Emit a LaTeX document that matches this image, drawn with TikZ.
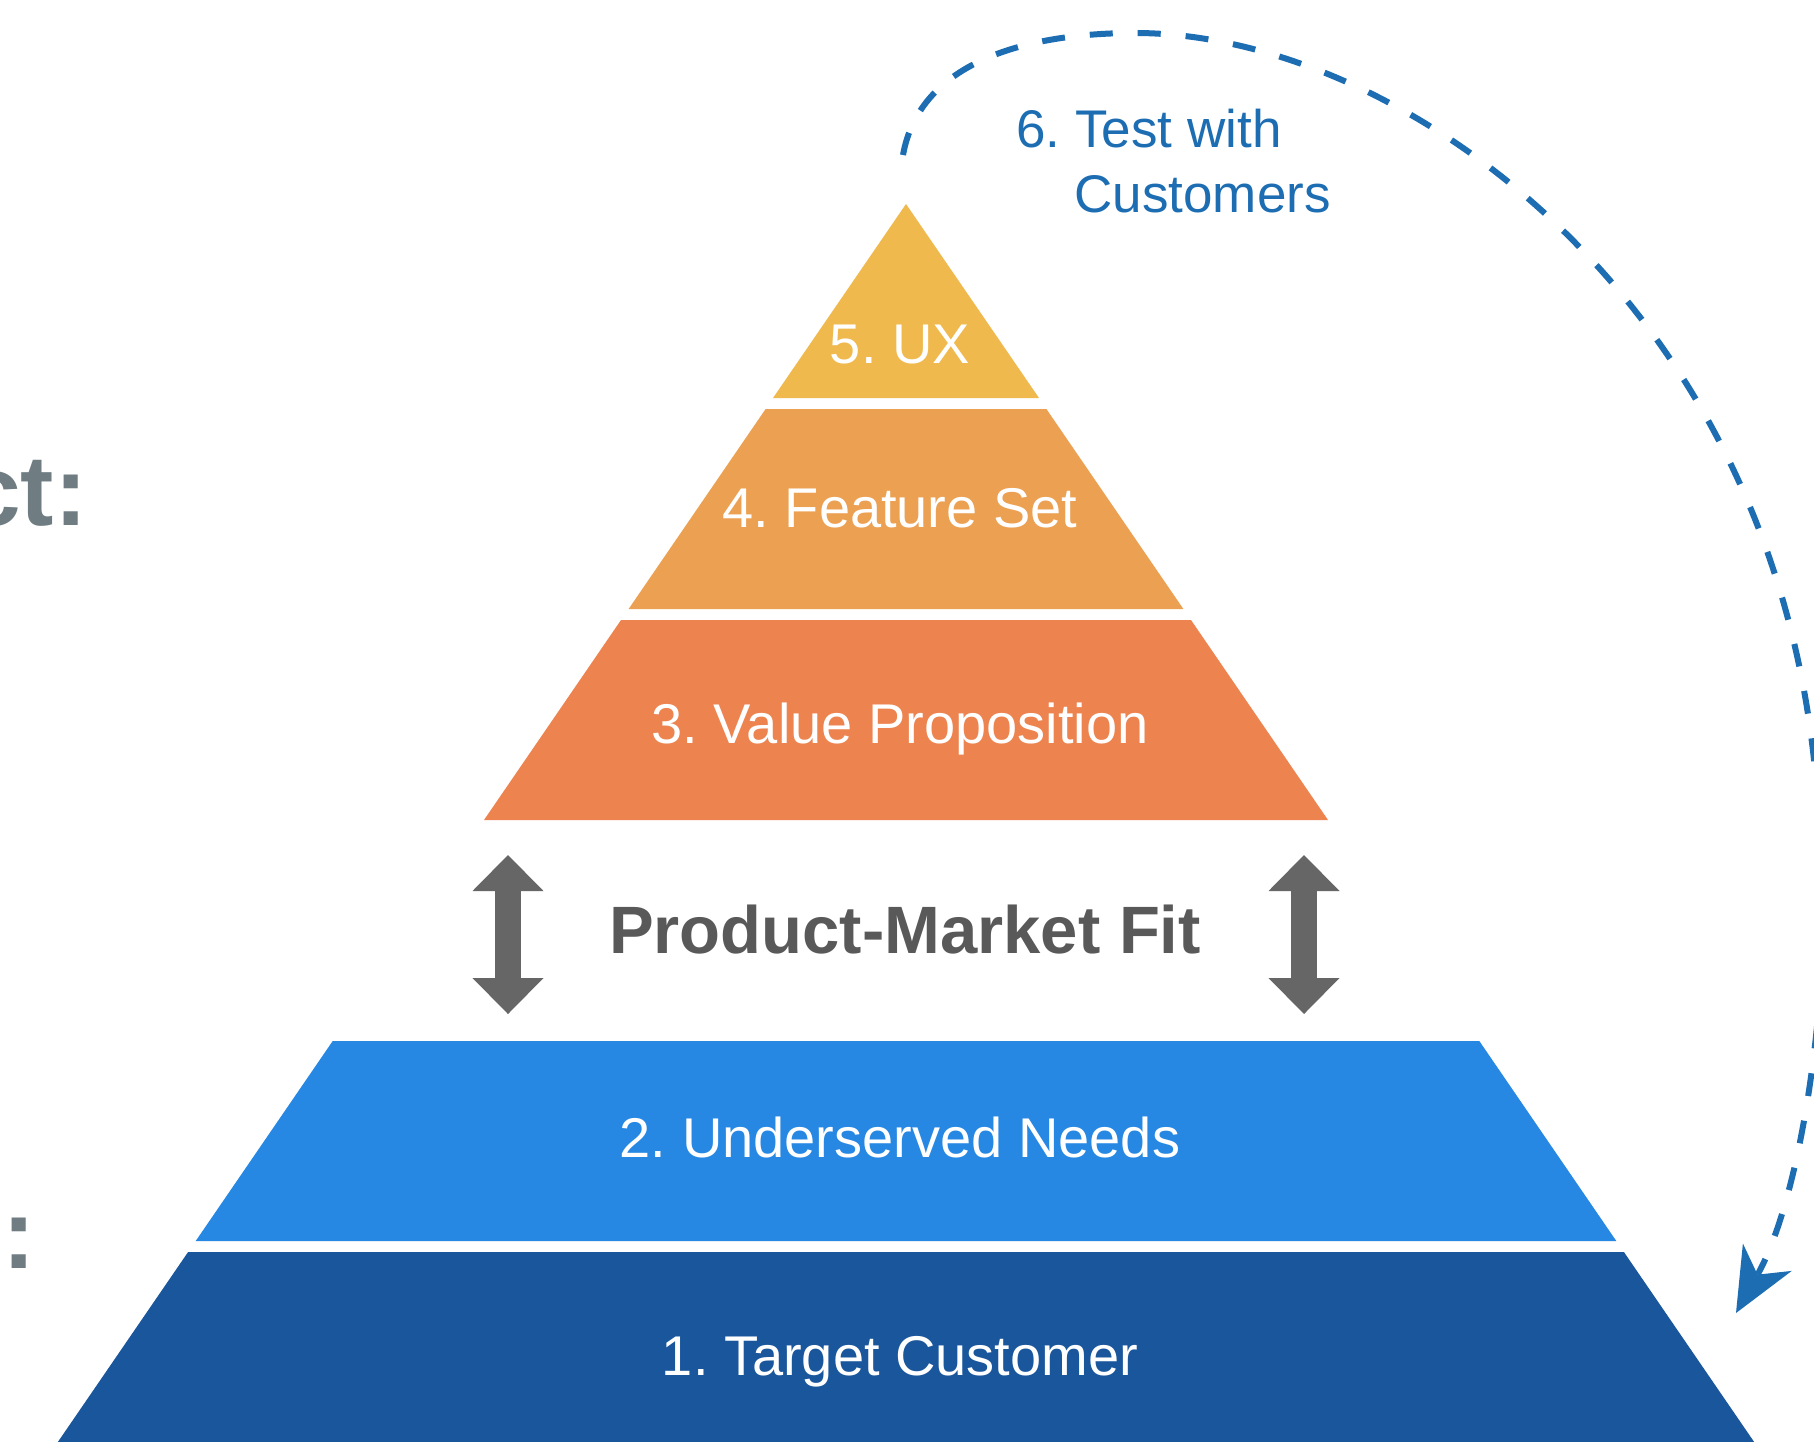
\documentclass[tikz,border=0pt]{standalone}
\usepackage{fontspec}
\setmainfont{Liberation Sans}
\usetikzlibrary{arrows.meta}
\definecolor{uxcol}{HTML}{EFB94D}
\definecolor{featcol}{HTML}{ECA052}
\definecolor{valcol}{HTML}{ED8450}
\definecolor{needcol}{HTML}{2788E3}
\definecolor{custcol}{HTML}{1A569C}
\definecolor{fitgray}{HTML}{666666}
\definecolor{fittext}{HTML}{595959}
\definecolor{testblue}{HTML}{1D6DB3}
\definecolor{sidegray}{HTML}{6F7C82}

\begin{document}
\frenchspacing
\begin{tikzpicture}[x=0.5pt, y=-0.5pt,
   layer/.style={text=white, inner sep=0pt, anchor=base, font=\fontsize{28}{32}\selectfont},
   fitarrow/.style={color=fitgray, line width=13pt,
     {Triangle[length=18pt,width=35.5pt,line width=0pt]}-{Triangle[length=18pt,width=35.5pt,line width=0pt]}},
   testline/.style={color=testblue, line width=3pt, dash pattern=on 11.5pt off 12.5pt,
     -{Stealth[length=32pt,width=28pt,inset=10pt,line width=0pt]}},
   testlbl/.style={text=testblue, inner sep=0pt, anchor=base west, font=\fontsize{26.5}{32}\selectfont},
   side/.style={text=sidegray, inner sep=0pt, anchor=base east, font=\fontsize{50}{56}\selectfont\bfseries}]
   \useasboundingbox (0,0) rectangle (1814,1441);
   \clip (0,0) rectangle (1814,1441);
   \fill[white] (0,0) rectangle (1814,1441);
   % upper pyramid
   \fill[uxcol] (906,204) -- (1039,398) -- (773,398) -- cycle;
   \fill[featcol] (765.6,409) -- (1046.4,409) -- (1183.4,609) -- (628.6,609) -- cycle;
   \fill[valcol] (621,620) -- (1191,620) -- (1328,820) -- (484,820) -- cycle;
   % lower pyramid
   \fill[needcol] (332.7,1041) -- (1479.3,1041) -- (1616.3,1241) -- (195.7,1241) -- cycle;
   \fill[custcol] (188.1,1252) -- (1623.9,1252) -- (1766.5,1460) -- (45.5,1460) -- cycle;
   \node[layer] (ux) at (900,363) {5. UX};
   \node[layer] (feat) at (900,527) {4. Feature Set};
   \node[layer] (val) at (900,743) {3. Value Proposition};
   \node[layer] (need) at (900,1157) {2. Underserved Needs};
   \node[layer] (cust) at (900,1375) {1. Target Customer};
   % product-market fit
   \node[text=fittext, inner sep=0pt, anchor=base, font=\fontsize{33.5}{38}\selectfont\bfseries] (fit) at (905,953) {Product-Market Fit};
   \coordinate (lup) at (508,855);
   \coordinate (ldown) at (508,1014);
   \coordinate (rup) at (1304,855);
   \coordinate (rdown) at (1304,1014);
   \draw[fitarrow] (lup) -- (ldown);
   \draw[fitarrow] (rup) -- (rdown);
   % test loop
   \coordinate (tstart) at (903,155);
   \coordinate (ttop) at (1135,33);
   \coordinate (tright) at (1815,770);
   \coordinate (tend) at (1736,1313);
   \draw[testline] (tstart) .. controls (920,60) and (1030,33) .. (ttop)
     .. controls (1400,33) and (1770,300) .. (tright)
     .. controls (1840,950) and (1805,1190) .. (tend);
   \node[testlbl] (testa) at (1016,147) {6. Test with};
   \node[testlbl] (testb) at (1074,212) {Customers};
   % cut-off side labels
   \node[side] (sidea) at (88,525) {ct:};
   \node[side] (sideb) at (36,1268) {:};
\end{tikzpicture}
\end{document}
